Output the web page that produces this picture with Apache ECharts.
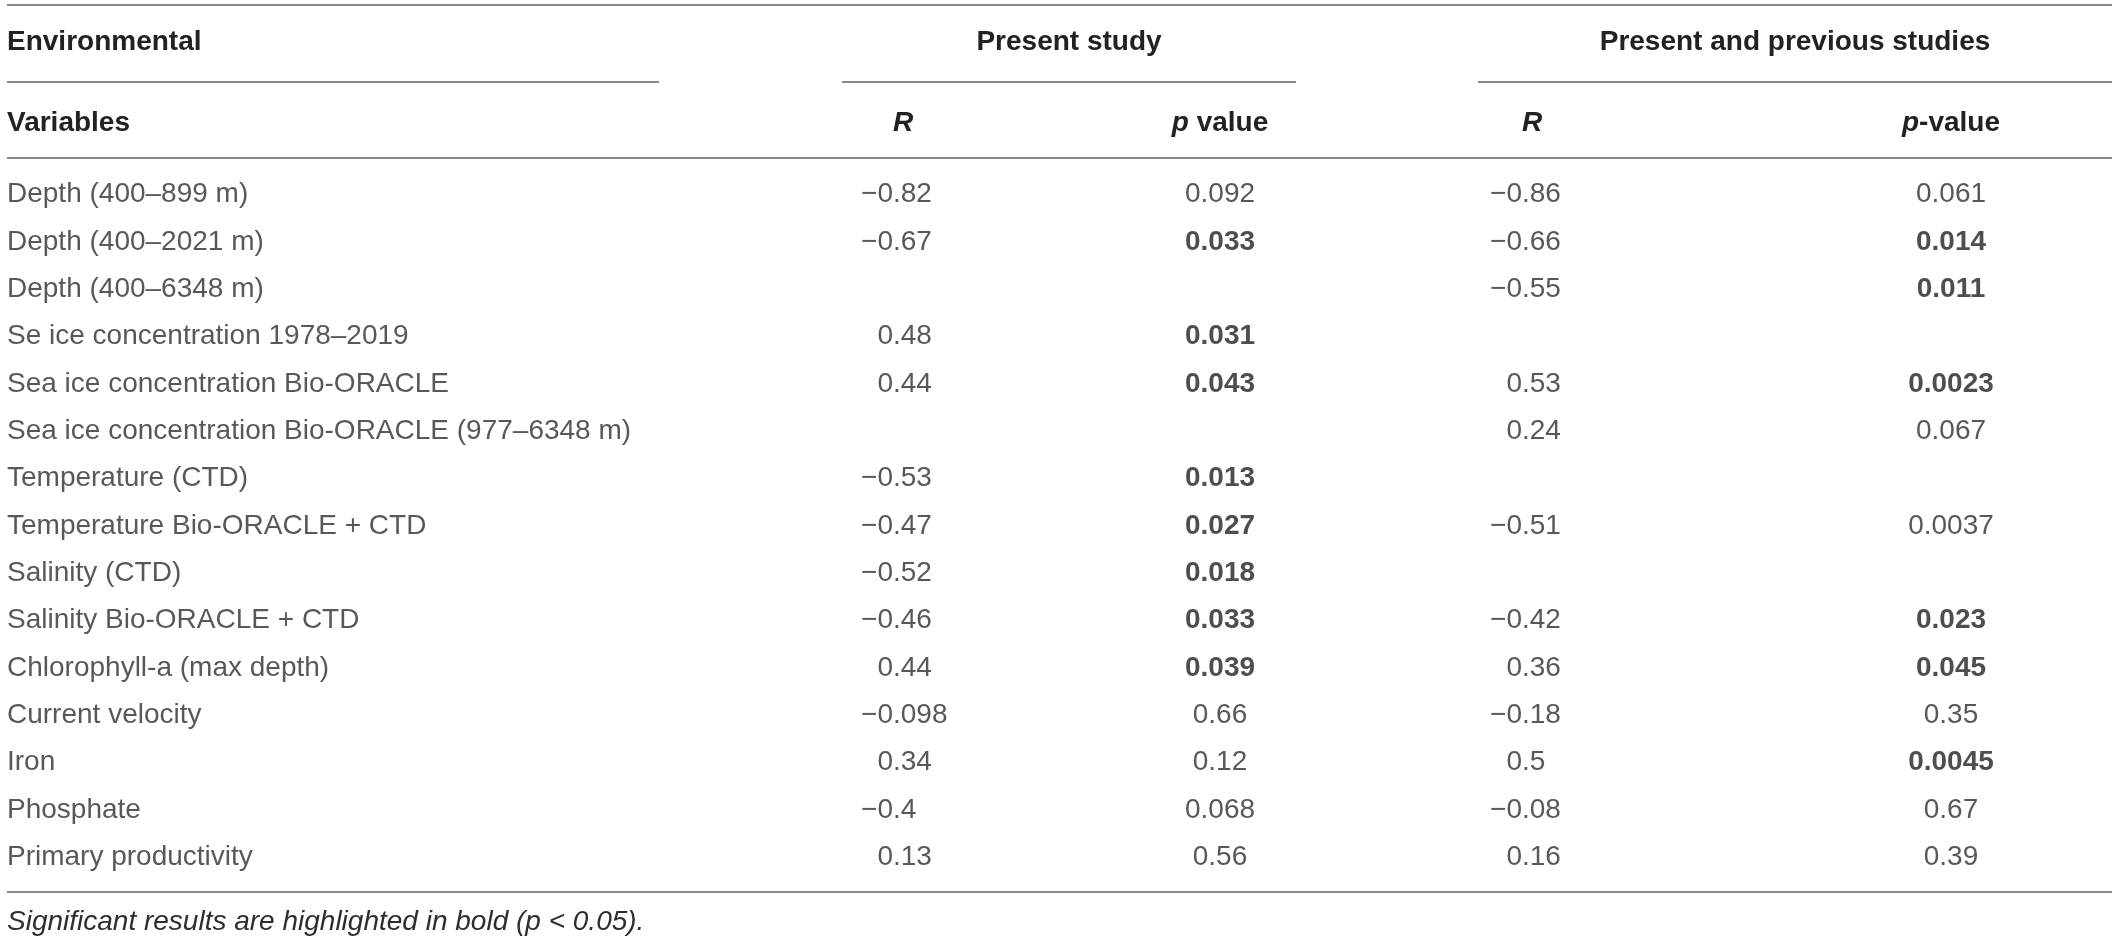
<!DOCTYPE html>
<html>
<head>
<meta charset="utf-8">
<script src="https://cdn.jsdelivr.net/npm/echarts@6/dist/echarts.min.js"></script>
<style>
  html, body { margin: 0; padding: 0; background: #fff; }
  #main { width: 2118px; height: 941px; }
</style>
</head>
<body>
<div id="main"></div>
<script>
// table data
var variables = [
  'Depth (400–899 m)',
  'Depth (400–2021 m)',
  'Depth (400–6348 m)',
  'Se ice concentration 1978–2019',
  'Sea ice concentration Bio-ORACLE',
  'Sea ice concentration Bio-ORACLE (977–6348 m)',
  'Temperature (CTD)',
  'Temperature Bio-ORACLE + CTD',
  'Salinity (CTD)',
  'Salinity Bio-ORACLE + CTD',
  'Chlorophyll-a (max depth)',
  'Current velocity',
  'Iron',
  'Phosphate',
  'Primary productivity'
];
// present study
var rPresent = [-0.82, -0.67, null, 0.48, 0.44, null, -0.53, -0.47, -0.52, -0.46, 0.44, -0.098, 0.34, -0.4, 0.13];
var pPresent = [0.092, 0.033, null, 0.031, 0.043, null, 0.013, 0.027, 0.018, 0.033, 0.039, 0.66, 0.12, 0.068, 0.56];
var pPresentBold = [false, true, false, true, true, false, true, true, true, true, true, false, false, false, false];
// present and previous studies
var rAll = [-0.86, -0.66, -0.55, null, 0.53, 0.24, null, -0.51, null, -0.42, 0.36, -0.18, 0.5, -0.08, 0.16];
var pAll = [0.061, 0.014, 0.011, null, 0.0023, 0.067, null, 0.0037, null, 0.023, 0.045, 0.35, 0.0045, 0.67, 0.39];
var pAllBold = [false, true, true, false, true, false, false, false, false, true, true, false, true, false, false];
var footnote = 'Significant results are highlighted in bold ';

// layout
var W = 2118;
var colVar = 7, colR1 = 893, colP1 = 1220, colR2 = 1522, colP2 = 1951;
var bodyFont = 'Liberation Sans';
var textColor = '#2e2e2e';
var ruleColor = '#8a8a8a';

function fmt(v) {
  return (v < 0 ? '−' : '') + String(Math.abs(v));
}

function textSeries(name, items, align, weight) {
  return {
    name: name,
    type: 'scatter',
    silent: true,
    animation: false,
    symbolSize: 1,
    itemStyle: { color: 'transparent' },
    label: {
      show: true,
      position: 'inside',
      align: align,
      verticalAlign: 'middle',
      fontFamily: bodyFont,
      fontSize: 28,
      fontWeight: weight || 'normal',
      color: textColor,
      formatter: function (p) { return p.data.text; }
    },
    emphasis: { disabled: true },
    data: items
  };
}

var varItems = variables.map(function (v, i) {
  return { value: [colVar, i], text: v };
});

// R values are aligned on the decimal point: integer part to the left, fraction to the right
function rItems(arr, x, part) {
  var out = [];
  arr.forEach(function (v, i) {
    if (v === null) return;
    var s = fmt(v);
    var k = s.indexOf('.');
    out.push({ value: [x, i], text: part === 'int' ? s.slice(0, k) : s.slice(k) });
  });
  return out;
}

function pItems(arr, bold, x) {
  var out = [];
  arr.forEach(function (v, i) {
    if (v === null) return;
    var it = { value: [x, i], text: fmt(v) };
    if (bold[i]) it.label = { fontWeight: 'bold', color: '#222' };
    out.push(it);
  });
  return out;
}

function hText(x, y, text, align, rich) {
  var st = {
    text: text,
    fontFamily: 'Liberation Sans',
    fontSize: 28,
    fontWeight: 'bold',
    fill: '#222',
    align: align,
    verticalAlign: 'middle'
  };
  if (rich) st.rich = rich;
  return { type: 'text', x: x, y: y, silent: true, style: st };
}

function hLine(x1, x2, y) {
  return {
    type: 'line', silent: true,
    shape: { x1: x1, y1: y, x2: x2, y2: y },
    style: { stroke: ruleColor, lineWidth: 2 }
  };
}

var headRich = {
  i: { fontFamily: 'Liberation Sans', fontSize: 28, fontWeight: 'bold', fontStyle: 'italic', fill: '#222' },
  n: { fontFamily: 'Liberation Sans', fontSize: 28, fontWeight: 'bold', fill: '#222' }
};
var footRich = {
  t: { fontFamily: bodyFont, fontSize: 28, fontStyle: 'italic', fill: textColor }
};

var chart = echarts.init(document.getElementById('main'));
chart.setOption({
  backgroundColor: '#fff',
  grid: { left: 0, right: 0, top: 171, bottom: 60 },
  xAxis: { type: 'value', min: 0, max: W, show: false },
  yAxis: { type: 'category', data: variables, inverse: true, show: false },
  series: [
    textSeries('Variables', varItems, 'left'),
    textSeries('R present int', rItems(rPresent, colR1, 'int'), 'right'),
    textSeries('R present frac', rItems(rPresent, colR1, 'frac'), 'left'),
    textSeries('p present', pItems(pPresent, pPresentBold, colP1), 'center'),
    textSeries('R all int', rItems(rAll, colR2, 'int'), 'right'),
    textSeries('R all frac', rItems(rAll, colR2, 'frac'), 'left'),
    textSeries('p all', pItems(pAll, pAllBold, colP2), 'center')
  ],
  graphic: [
    hLine(7, 2112, 5),
    hText(colVar, 42, 'Environmental', 'left'),
    hText(1069, 42, 'Present study', 'center'),
    hText(1795, 42, 'Present and previous studies', 'center'),
    hLine(7, 659, 82),
    hLine(842, 1296, 82),
    hLine(1478, 2112, 82),
    hText(colVar, 123, 'Variables', 'left'),
    hText(903, 123, '{i|R}', 'center', headRich),
    hText(colP1, 123, '{i|p}{n| value}', 'center', headRich),
    hText(1532, 123, '{i|R}', 'center', headRich),
    hText(colP2, 123, '{i|p}{n|-value}', 'center', headRich),
    hLine(7, 2112, 158),
    hLine(7, 2112, 892),
    {
      type: 'text', x: colVar, y: 922, silent: true,
      style: {
        text: '{t|' + footnote + '(p < 0.05).}',
        rich: footRich,
        align: 'left',
        verticalAlign: 'middle'
      }
    }
  ]
});
</script>
</body>
</html>
